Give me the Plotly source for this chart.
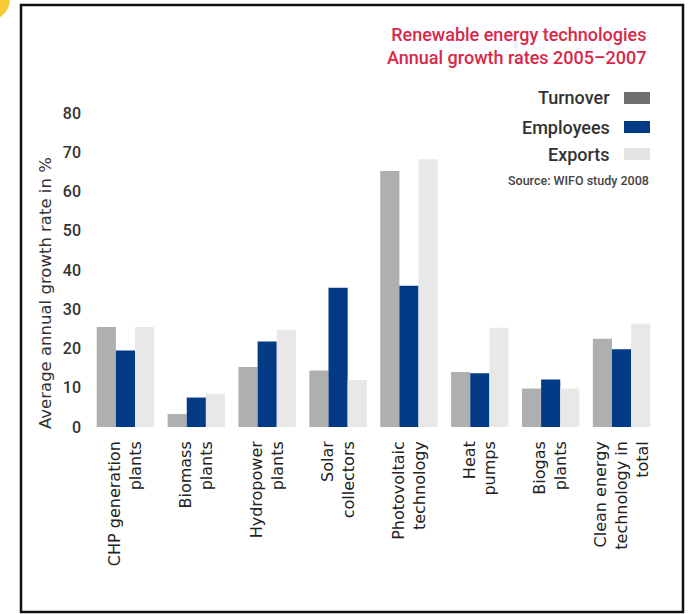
import plotly.graph_objects as go

categories = [
    "CHP generation<br>plants",
    "Biomass<br>plants",
    "Hydropower<br>plants",
    "Solar<br>collectors",
    "Photovoltaic<br>technology",
    "Heat<br>pumps",
    "Biogas<br>plants",
    "Clean energy<br>technology in<br>total",
]
turnover = [25.5, 3.3, 15.3, 14.4, 65.2, 14.0, 9.8, 22.5]
employees = [19.5, 7.5, 21.8, 35.5, 36.0, 13.7, 12.1, 19.8]
exports = [25.5, 8.5, 24.8, 12.0, 68.2, 25.3, 9.8, 26.3]
yticks = [0, 10, 20, 30, 40, 50, 60, 70, 80]

series_names = ["Turnover", "Employees", "Exports"]
bar_colors = ["#AEAFB1", "#023A86", "#E8E8E9"]
legend_colors = ["#6E6F71", "#023A86", "#E3E3E4"]

W, H = 693, 614
L, R, T, B = 90, 36, 113, 187
pw, ph = W - L - R, H - T - B


def px(x):
    return (x - L) / pw


def py(y):
    return (H - B - y) / ph


fig = go.Figure()
for name, vals, col in zip(series_names, [turnover, employees, exports], bar_colors):
    fig.add_trace(go.Bar(x=categories, y=vals, name=name, marker=dict(color=col, line=dict(width=0)),
                         showlegend=False))

shapes = [
    # frame
    dict(type="rect", xref="paper", yref="paper", x0=px(21), x1=px(683), y0=py(612), y1=py(5),
         line=dict(color="#111111", width=2.5), fillcolor="rgba(0,0,0,0)", layer="below"),
    # yellow corner circle
    dict(type="circle", xref="paper", yref="paper", x0=px(-30), x1=px(10), y0=py(20), y1=py(-22),
         line=dict(width=0), fillcolor="#F6C935", layer="below"),
]
annotations = []
legend_y = [98, 127, 154]
for name, col, yy in zip(series_names, legend_colors, legend_y):
    shapes.append(dict(type="rect", xref="paper", yref="paper", x0=px(624), x1=px(650),
                       y0=py(yy + 6), y1=py(yy - 6), line=dict(width=0), fillcolor=col))
    annotations.append(dict(text=name, xref="paper", yref="paper", x=px(612), y=py(yy),
                            xanchor="right", yanchor="middle", showarrow=False,
                            font=dict(family="Roboto", size=18, color="#333333", weight=500)))
annotations.append(dict(text="Source: WIFO study 2008", xref="paper", yref="paper", x=px(651), y=py(180),
                        xanchor="right", yanchor="middle", showarrow=False,
                        font=dict(family="Roboto", size=12.5, color="#444444", weight=500)))
annotations.append(dict(text="Renewable energy technologies<br>Annual growth rates 2005–2007",
                        xref="paper", yref="paper", x=px(649), y=py(46), xanchor="right",
                        yanchor="middle", align="right", showarrow=False,
                        font=dict(family="Roboto", size=18, color="#D8284A", weight=500)))
annotations.append(dict(text="Average annual growth rate in %", xref="paper", yref="paper",
                        x=px(45), y=py(293), xanchor="center", yanchor="middle", textangle=-90,
                        showarrow=False, font=dict(family="DejaVu Sans", size=16.5, color="#333333")))

fig.update_layout(
    width=W, height=H,
    margin=dict(l=L, r=R, t=T, b=B),
    paper_bgcolor="white", plot_bgcolor="white",
    barmode="group", bargap=0.19, bargroupgap=0,
    shapes=shapes, annotations=annotations,
    xaxis=dict(tickangle=-90, showgrid=False, showline=False, ticks="", ticklabelstandoff=10,
               tickfont=dict(family="DejaVu Sans", size=16, color="#222222")),
    yaxis=dict(range=[0, 80], tickvals=yticks, showgrid=False, showline=False, zeroline=False,
               ticks="", ticklabelstandoff=8,
               tickfont=dict(family="Roboto", size=16, color="#333333", weight=500)),
)

fig.write_html("out.html", config={"displayModeBar": False},
               post_script="document.body.style.margin='0';document.body.style.overflow='hidden';")
